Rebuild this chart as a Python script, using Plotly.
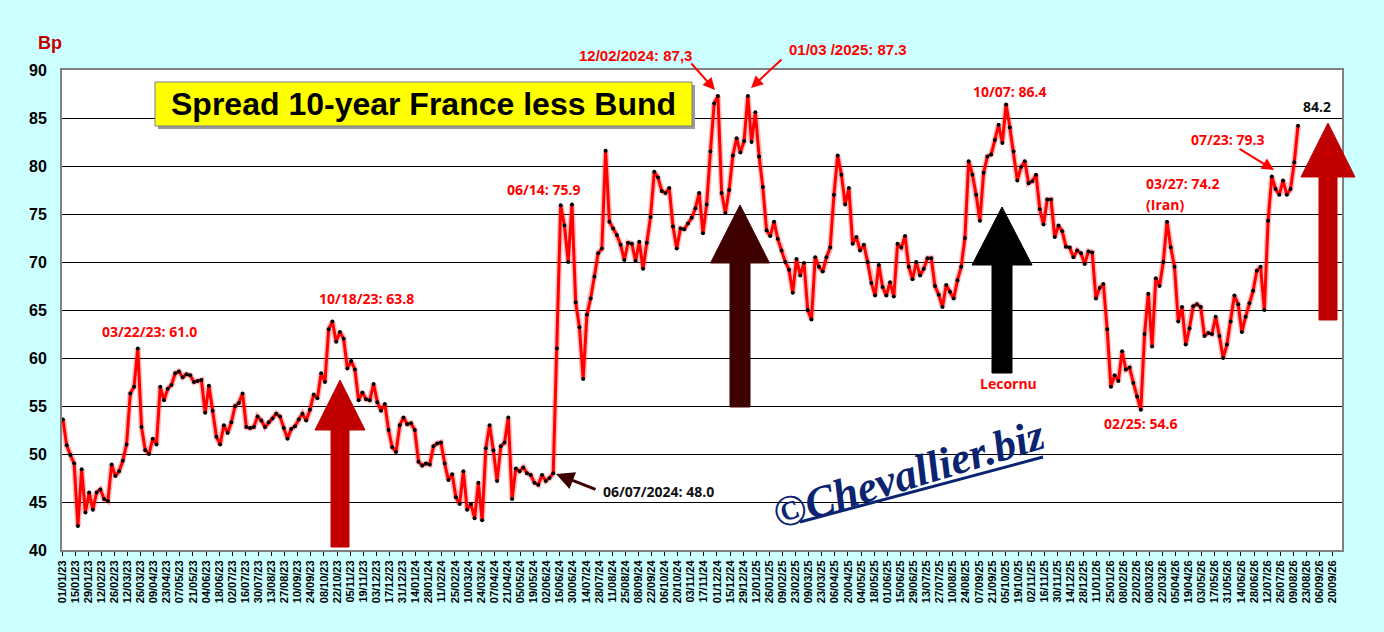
import pandas as pd
import plotly.graph_objects as go

# ---------------- data (one value every 4 days) ----------------
start_date = "2023-01-02"
spread_bp = [
    53.6, 50.9, 49.9, 49.0, 42.5, 48.4, 43.9, 46.0, 44.2, 46.0,
    46.3, 45.3, 45.1, 48.9, 47.7, 48.2, 49.3, 51.0, 56.3, 57.0,
    61.0, 52.8, 50.4, 50.0, 51.6, 51.0, 57.0, 55.6, 56.8, 57.2,
    58.4, 58.6, 58.0, 58.3, 58.2, 57.5, 57.6, 57.7, 54.3, 57.1,
    54.5, 51.8, 51.0, 53.0, 52.2, 53.3, 55.0, 55.3, 56.3, 52.8,
    52.7, 52.8, 53.9, 53.5, 52.8, 53.3, 53.7, 54.2, 53.9, 52.7,
    51.6, 52.6, 52.9, 53.6, 54.2, 53.5, 54.6, 56.2, 55.8, 58.4,
    57.5, 63.0, 63.8, 61.7, 62.7, 62.0, 58.9, 59.7, 58.8, 55.6,
    56.4, 55.7, 55.6, 57.3, 55.4, 54.5, 55.2, 52.5, 50.7, 50.2,
    53.0, 53.8, 53.1, 53.2, 52.5, 49.2, 48.8, 49.0, 48.9, 50.8,
    51.1, 51.2, 49.0, 47.3, 47.9, 45.5, 44.8, 48.2, 44.2, 44.8,
    43.3, 47.0, 43.1, 50.6, 53.0, 50.4, 47.2, 50.8, 51.2, 53.8,
    45.3, 48.5, 48.2, 48.6, 48.0, 47.8, 47.0, 46.8, 47.8, 47.2,
    47.5, 48.0, 61.0, 75.9, 73.8, 70.0, 76.0, 65.8, 63.2, 57.8,
    64.5, 66.2, 68.5, 70.9, 71.4, 81.6, 74.2, 73.5, 72.8, 71.8,
    70.2, 72.0, 71.9, 70.1, 72.1, 69.3, 72.0, 74.7, 79.4, 78.8,
    77.4, 77.2, 77.7, 73.7, 71.4, 73.5, 73.4, 74.0, 74.6, 75.6,
    77.2, 73.0, 76.0, 81.5, 86.5, 87.3, 77.2, 75.1, 77.5, 81.1,
    82.9, 81.4, 82.6, 87.3, 82.5, 85.6, 81.0, 77.8, 73.3, 72.7,
    74.2, 72.4, 71.2, 70.0, 69.2, 66.8, 70.3, 68.6, 69.9, 65.0,
    64.0, 70.5, 69.5, 69.0, 70.5, 71.5, 77.0, 81.1, 79.1, 76.0,
    77.7, 71.9, 72.6, 71.2, 71.8, 70.0, 67.8, 66.5, 69.7, 67.4,
    66.5, 67.9, 66.4, 71.9, 71.5, 72.7, 69.5, 68.2, 70.0, 68.6,
    69.3, 70.4, 70.4, 67.5, 66.6, 65.3, 67.6, 66.9, 66.2, 68.1,
    69.5, 72.5, 80.5, 79.1, 77.0, 74.3, 79.3, 81.0, 81.2, 82.7,
    84.3, 82.4, 86.4, 84.0, 81.5, 78.5, 79.9, 80.5, 78.2, 78.4,
    79.1, 75.5, 73.9, 76.5, 76.5, 72.6, 73.8, 73.2, 71.6, 71.5,
    70.5, 71.2, 70.9, 69.8, 71.1, 71.0, 66.2, 67.3, 67.7, 63.0,
    57.0, 58.2, 57.6, 60.7, 58.8, 59.0, 57.4, 56.0, 54.6, 62.5,
    66.7, 61.2, 68.3, 67.5, 70.0, 74.2, 71.5, 69.5, 63.8, 65.3,
    61.4, 63.1, 65.4, 65.6, 65.3, 62.3, 62.6, 62.5, 64.3, 62.3,
    60.0, 61.4, 63.8, 66.5, 65.6, 62.7, 64.3, 65.7, 67.0, 69.1,
    69.5, 65.0, 74.3, 78.9, 77.6, 77.0, 78.5, 77.0, 77.6, 80.4,
    84.2,
]
dates = pd.date_range(start_date, periods=len(spread_bp), freq="4D")

x_range = ["2023-01-01", "2026-09-30"]
y_range = [40, 90]
y_ticks = [40, 45, 50, 55, 60, 65, 70, 75, 80, 85, 90]

# ---------------- figure geometry ----------------
W, H = 1384, 632
ML, MR, MT, MB = 62, 42, 70, 82
PW, PH = W - ML - MR, H - MT - MB


def px(xp):
    return (xp - ML) / PW


def py(yp):
    return (H - MB - yp) / PH


RED = "#FF0000"
DARKRED = "#C00000"
NAVY = "#0B2470"
ANN_FONT = "Open Sans"
SANS = "Liberation Sans, Arial"

fig = go.Figure()
fig.add_trace(go.Scatter(
    x=dates, y=spread_bp, mode="lines",
    line=dict(color="rgba(255,0,0,0.25)", width=6),
    hoverinfo="skip", showlegend=False,
))
fig.add_trace(go.Scatter(
    x=dates, y=spread_bp, mode="lines+markers",
    line=dict(color=RED, width=3),
    marker=dict(color="black", size=4),
    showlegend=False,
))


def block_arrow(cx, apex_y, base_y, head_half, shaft_half, bottom_y, color):
    pts = [
        (cx, apex_y), (cx + head_half, base_y), (cx + shaft_half, base_y),
        (cx + shaft_half, bottom_y), (cx - shaft_half, bottom_y),
        (cx - shaft_half, base_y), (cx - head_half, base_y),
    ]
    path = "M " + " L ".join(f"{px(a):.5f},{py(b):.5f}" for a, b in pts) + " Z"
    return dict(type="path", xref="paper", yref="paper", path=path,
                fillcolor=color, line=dict(color=color, width=1), layer="above")


shapes = [
    block_arrow(340, 380, 430, 25, 9, 547, DARKRED),
    block_arrow(740, 205, 263, 29.5, 10, 407, "#3F0000"),
    block_arrow(1002, 207, 265, 30, 10, 373, "#000000"),
    block_arrow(1328, 123, 177, 27, 9, 320, DARKRED),
    # title box shadow + box
    dict(type="rect", xref="paper", yref="paper", x0=px(158), x1=px(695), y0=py(129), y1=py(85),
         fillcolor="#9a9a9a", line=dict(width=0), layer="above"),
    dict(type="rect", xref="paper", yref="paper", x0=px(155), x1=px(692), y0=py(126), y1=py(82),
         fillcolor="#FFFF00", line=dict(color="#7f7f7f", width=1), layer="above"),
    # watermark underline
    dict(type="line", xref="paper", yref="paper", x0=px(800), y0=py(522), x1=px(1043), y1=py(457),
         line=dict(color=NAVY, width=3), layer="above"),
]


def label(text, xc, yc, color=RED, size=14, family=ANN_FONT, xanchor="center", weight="bold"):
    return dict(text=text, xref="paper", yref="paper", x=px(xc), y=py(yc),
                xanchor=xanchor, yanchor="middle", showarrow=False,
                font=dict(color=color, size=size, family=family, weight=weight))


def arrow(x_tail, y_tail, x_head, y_head, color, width=2):
    return dict(text="", xref="paper", yref="paper", x=px(x_head), y=py(y_head),
                ax=x_tail - x_head, ay=y_tail - y_head, axref="pixel", ayref="pixel",
                showarrow=True, arrowhead=2, arrowsize=1.2, arrowwidth=width, arrowcolor=color)


annotations = [
    label("Bp", 50, 43, color=DARKRED, size=18, family=SANS),
    label("Spread 10-year France less Bund", 423, 104, color="black", size=32, family=SANS),
    label("03/22/23: 61.0", 149, 331),
    label("10/18/23: 63.8", 366, 298),
    label("06/07/2024: 48.0", 601, 491, color="#111111", xanchor="left"),
    label("06/14: 75.9", 543, 189),
    label("12/02/2024: 87,3", 635, 55, size=15, family=SANS),
    label("01/03 /2025: 87.3", 848, 50, size=15, family=SANS),
    label("10/07: 86.4", 1009, 92),
    label("Lecornu", 1008, 383),
    label("02/25: 54.6", 1140, 423),
    label("03/27: 74.2", 1144, 183, xanchor="left"),
    label("(Iran)", 1144, 204, xanchor="left"),
    label("07/23: 79.3", 1227, 139),
    label("84.2", 1317, 107, color="#111111"),
    arrow(597, 490, 556, 474, "#3F0000", 3),
    arrow(690, 62, 715, 90, RED, 2),
    arrow(783, 58, 751, 88, RED, 2),
    arrow(1238, 148, 1274, 170, RED, 2),
    dict(text="©Chevallier.biz", xref="paper", yref="paper", x=px(908), y=py(474),
         xanchor="center", yanchor="middle", showarrow=False, textangle=-17,
         font=dict(color=NAVY, size=44, family="Liberation Serif, DejaVu Serif",
                   style="italic", weight="bold")),
]

fig.update_layout(
    width=W, height=H,
    margin=dict(l=ML, r=MR, t=MT, b=MB),
    paper_bgcolor="#CCFFFF",
    plot_bgcolor="white",
    shapes=shapes,
    annotations=annotations,
    xaxis=dict(
        type="date", range=x_range, tick0="2023-01-01", dtick=14 * 86400000,
        tickformat="%d/%m/%y", tickangle=-90, ticks="outside", ticklen=4,
        tickcolor="black", showgrid=False, zeroline=False,
        showline=True, linecolor="#808080", linewidth=2, mirror=True,
        tickfont=dict(family=SANS, size=11, color="black", weight="bold"),
    ),
    yaxis=dict(
        range=y_range, tickvals=y_ticks, showgrid=True, gridcolor="black", gridwidth=1,
        zeroline=False, showline=True, linecolor="#808080", linewidth=2, mirror=True,
        ticks="", ticklabelstandoff=10,
        tickfont=dict(family=SANS, size=16, color="black", weight="bold"),
    ),
)

fig.write_html(
    "out.html",
    config={"displayModeBar": False},
    post_script="document.body.style.margin='0';document.body.style.overflow='hidden';"
                "document.body.style.background='#CCFFFF';",
)
